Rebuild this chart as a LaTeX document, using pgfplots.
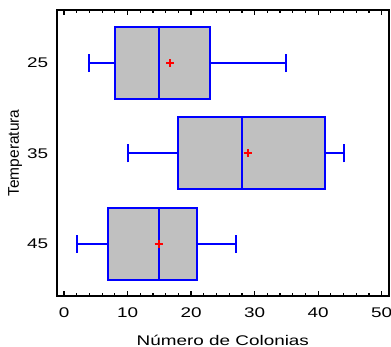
\documentclass[border=0pt]{standalone}
\usepackage{fontspec}
\setmainfont{Liberation Sans}[FakeStretch=1.35]
\newfontfamily\labelfont{Liberation Sans}
\usepackage{pgfplots}
\pgfplotsset{compat=1.18}
\definecolor{boxgray}{RGB}{192,192,192}
\pgfplotsset{
  bl/.style={draw=blue, line width=2pt, solid, mark=none},
  bx/.style={draw=blue, fill=boxgray, line width=2pt, solid, mark=none},
}
\begin{document}
\begin{tikzpicture}
\begin{axis}[
  scale only axis,
  width=332.3pt, height=286pt,
  xmin=-1.15, xmax=51.15,
  ymin=0.421, ymax=3.587,
  xtick={0,10,20,30,40,50},
  minor x tick num=4,
  ytick={1,2,3},
  yticklabels={45,35,25},
  xtick pos=both, xticklabel pos=lower,
  ytick pos=left,
  tick align=inside,
  major tick length=5pt,
  minor tick length=3pt,
  x tick style={black, line width=1.2pt},
  y tick style={draw=none},
  axis line style={black, line width=1.8pt},
  /pgf/number format/assume math mode=true,
  ticklabel style={font=\fontsize{14}{16}\selectfont},
  xticklabel style={anchor=north, inner sep=0pt, yshift=-12pt},
  yticklabel style={anchor=east, inner sep=0pt, xshift=-8.4pt},
  xlabel={Número de Colonias},
  ylabel={\labelfont Temperatura},
  xlabel style={font=\fontsize{14}{16}\selectfont, at={(axis description cs:0.5,-0.1538)}, anchor=center},
  ylabel style={font=\fontsize{15.5}{17}\selectfont, at={(axis description cs:-0.1250,0.5)}, anchor=center},
  clip=false,
]
% Temperatura 25 (y=3): 4, 8, 15, 23, 35
\addplot[bl] coordinates {(4,3) (8,3)};
\addplot[bl] coordinates {(23,3) (35,3)};
\addplot[bl] coordinates {(4,2.9) (4,3.1)};
\addplot[bl] coordinates {(35,2.9) (35,3.1)};
\addplot[bx] coordinates {(8,2.6) (23,2.6) (23,3.4) (8,3.4)} -- cycle;
\addplot[bl] coordinates {(15,2.6) (15,3.4)};
% Temperatura 35 (y=2): 10, 18, 28, 41, 44
\addplot[bl] coordinates {(10,2) (18,2)};
\addplot[bl] coordinates {(41,2) (44,2)};
\addplot[bl] coordinates {(10,1.9) (10,2.1)};
\addplot[bl] coordinates {(44,1.9) (44,2.1)};
\addplot[bx] coordinates {(18,1.6) (41,1.6) (41,2.4) (18,2.4)} -- cycle;
\addplot[bl] coordinates {(28,1.6) (28,2.4)};
% Temperatura 45 (y=1): 2, 7, 15, 21, 27
\addplot[bl] coordinates {(2,1) (7,1)};
\addplot[bl] coordinates {(21,1) (27,1)};
\addplot[bl] coordinates {(2,0.9) (2,1.1)};
\addplot[bl] coordinates {(27,0.9) (27,1.1)};
\addplot[bx] coordinates {(7,0.6) (21,0.6) (21,1.4) (7,1.4)} -- cycle;
\addplot[bl] coordinates {(15,0.6) (15,1.4)};
% means
\addplot[only marks, mark=+, draw=red, mark options={draw=red, line width=1.8pt, solid}, mark size=4pt] coordinates {(16.7,3) (28.9,2) (14.9,1)};
\coordinate (sw) at (rel axis cs:0,0);
\coordinate (ne) at (rel axis cs:1,1);
\end{axis}
\pgfresetboundingbox
\path[use as bounding box] ([xshift=-56.7pt,yshift=-51pt]sw) rectangle ([xshift=2pt,yshift=10pt]ne);
\end{tikzpicture}
\end{document}
